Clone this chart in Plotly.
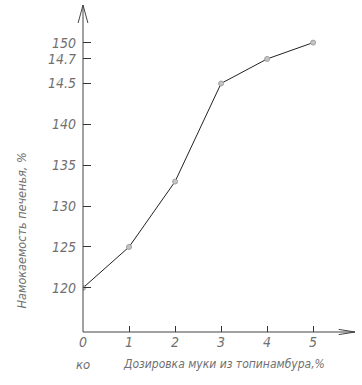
import plotly.graph_objects as go

dosage = [0, 1, 2, 3, 4, 5]
wetting = [120, 125, 133, 145, 148, 150]

x_tickvals = [0, 1, 2, 3, 4, 5]
x_ticktext = ["0", "1", "2", "3", "4", "5"]
x_sublabel = "ко"
y_tickvals = [120, 125, 130, 135, 140, 145, 148, 150]
y_ticktext = ["120", "125", "130", "135", "140", "14.5", "14.7", "150"]

x_title = "Дозировка муки из топинамбура,%"
y_title = "Намокаемость печенья, %"

FONT = "Liberation Sans Narrow, DejaVu Sans Condensed, Arial Narrow, sans-serif"
INK = "#707070"

fig = go.Figure()
fig.add_trace(go.Scatter(
    x=dosage, y=wetting, mode="lines+markers",
    line=dict(color="#222222", width=1),
    marker=dict(size=5, color="#c4c4c4", line=dict(color="#a0a0a0", width=1)),
    showlegend=False,
))

fig.update_layout(
    width=362, height=385,
    margin=dict(l=83, r=7, t=5, b=53),
    paper_bgcolor="white", plot_bgcolor="white",
    font=dict(family=FONT, color=INK, size=14, style="italic"),
    xaxis=dict(
        range=[0, 5.91], showgrid=False, zeroline=False,
        showline=False, tickmode="array", tickvals=x_tickvals, ticktext=x_ticktext,
        ticks="inside", ticklen=6, tickcolor="#333333", tickwidth=1,
        tickfont=dict(family=FONT, size=14, color=INK, style="italic"),
    ),
    yaxis=dict(
        range=[114.6, 154.6], showgrid=False, zeroline=False,
        showline=False, tickmode="array", tickvals=y_tickvals, ticktext=y_ticktext,
        ticks="inside", ticklen=8, tickcolor="#333333", tickwidth=1,
        ticklabelstandoff=6,
        tickfont=dict(family=FONT, size=14, color=INK, style="italic"),
    ),
)

axis_line = dict(color="#444444", width=1)
fig.add_shape(type="line", xref="paper", yref="paper", x0=0, y0=0, x1=0, y1=1, line=axis_line)
fig.add_shape(type="line", xref="paper", yref="paper", x0=0, y0=0, x1=1, y1=0, line=axis_line)
fig.add_shape(type="path", xref="paper", yref="paper",
              path="M -0.018,0.945 L 0,1 L 0.018,0.945", line=axis_line)
fig.add_shape(type="path", xref="paper", yref="paper",
              path="M 0.94,0.008 L 1,0 L 0.94,-0.008", line=axis_line)

fig.add_annotation(text=x_sublabel, xref="x", yref="paper", x=0, y=-0.098,
                   showarrow=False, xanchor="center", yanchor="middle",
                   font=dict(family=FONT, size=13, color=INK, style="italic"))
fig.add_annotation(text=x_title, xref="paper", yref="paper", x=0.52, y=-0.098,
                   showarrow=False, xanchor="center", yanchor="middle",
                   font=dict(family=FONT, size=12, color=INK, style="italic"))
fig.add_annotation(text=y_title, xref="paper", yref="paper", x=-0.225, y=0.31,
                   showarrow=False, textangle=-90, xanchor="center", yanchor="middle",
                   font=dict(family=FONT, size=12.5, color=INK, style="italic"))

fig.write_html("out.html", config={"displayModeBar": False},
               post_script="document.body.style.margin='0';")
